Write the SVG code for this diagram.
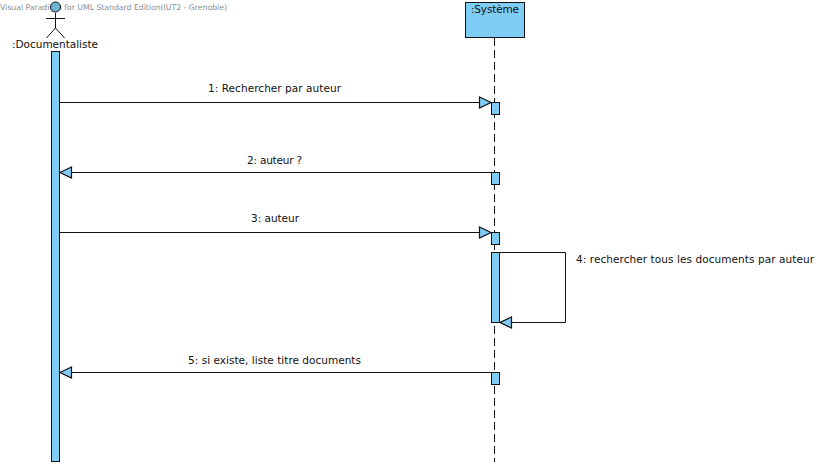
<svg xmlns="http://www.w3.org/2000/svg" width="828" height="466" viewBox="0 0 828 466">
<style>
text{font-family:"DejaVu Sans","Liberation Sans",sans-serif;font-size:10.5px;fill:#111}
.wm{font-size:7.8px;fill:#8a8f94}
.box{fill:#7fcdf5;stroke:#111;stroke-width:1}
.ln{fill:none;stroke:#111;stroke-width:1}
.life{fill:none;stroke:#111;stroke-width:1;stroke-dasharray:8 4}
.head{fill:#7fcdf5;stroke:#111;stroke-width:1.2}
</style>
<rect width="828" height="466" fill="#fff"/>
<text class="wm" x="0" y="10" textLength="227">Visual Paradigm for UML Standard Edition(IUT2 - Grenoble)</text>
<g id="connectors">
<line class="life" x1="494.500" y1="38" x2="494.500" y2="462"/>
<line class="ln" x1="60" y1="102.500" x2="490" y2="102.500"/>
<polygon class="head" points="479.500,97 491,102.500 479.500,108"/>
<line class="ln" x1="70" y1="172.500" x2="491" y2="172.500"/>
<polygon class="head" points="71.500,167 60,172.500 71.500,178"/>
<line class="ln" x1="60" y1="232.500" x2="490" y2="232.500"/>
<polygon class="head" points="479.500,227 491,232.500 479.500,238"/>
<polyline class="ln" points="500,252.500 565.500,252.500 565.500,322.500 510,322.500"/>
<polygon class="head" points="511.500,317 500,322.500 511.500,328"/>
<line class="ln" x1="70" y1="372.500" x2="491" y2="372.500"/>
<polygon class="head" points="71.500,367 60,372.500 71.500,378"/>
</g>
<g id="documentaliste">
<line class="ln" x1="55.500" y1="13" x2="55.500" y2="28"/>
<line class="ln" x1="46" y1="18.500" x2="65" y2="18.500"/>
<polyline class="ln" points="46.500,38 55.500,28 64.500,38"/>
<circle cx="55.500" cy="7" r="5" fill="#6bb7d6" stroke="#111"/>
<text x="12" y="48" textLength="86">:Documentaliste</text>
<rect class="box" x="51.500" y="51.500" width="8" height="410"/>
</g>
<g id="systeme">
<rect class="box" x="465.500" y="2.500" width="59" height="35"/>
<text x="471" y="13" textLength="48">:Système</text>
<rect class="box" x="491.500" y="102.500" width="8" height="12"/>
<rect class="box" x="491.500" y="172.500" width="8" height="12"/>
<rect class="box" x="491.500" y="232.500" width="8" height="12"/>
<rect class="box" x="491.500" y="252.500" width="8" height="70"/>
<rect class="box" x="491.500" y="372.500" width="8" height="12"/>
</g>
<g id="labels">
<text x="208" y="92" textLength="133">1: Rechercher par auteur</text>
<text x="247" y="164" textLength="55">2: auteur ?</text>
<text x="251" y="222" textLength="48">3: auteur</text>
<text x="576" y="263" textLength="238">4: rechercher tous les documents par auteur</text>
<text x="188" y="364" textLength="173">5: si existe, liste titre documents</text>
</g>
</svg>
